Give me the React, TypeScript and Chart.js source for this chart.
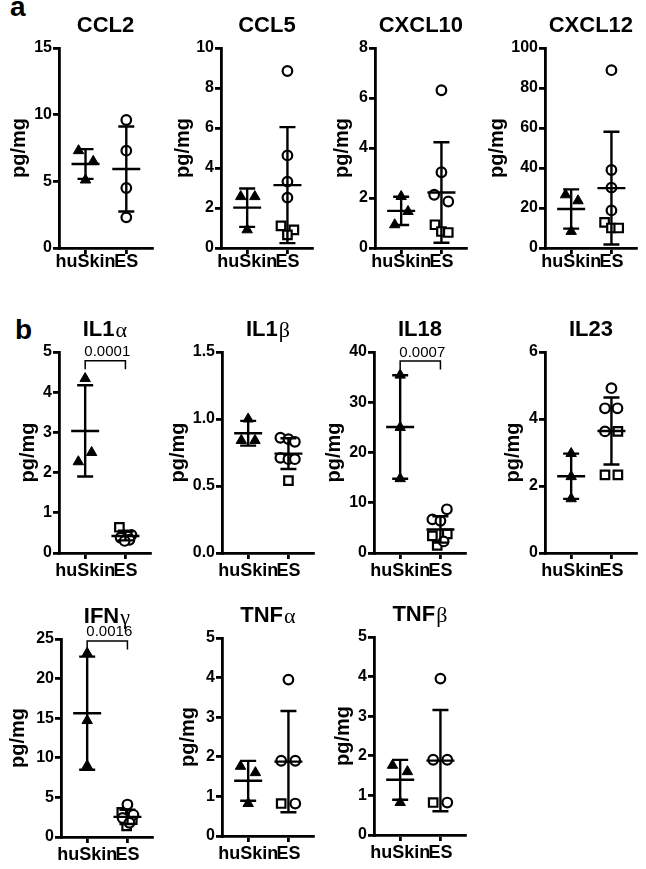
import React, { useEffect, useRef } from "react";
import { Chart, registerables } from "chart.js";
Chart.register(...registerables);

const FONT = "'Liberation Sans', Arial, Helvetica, sans-serif";
const SERIF = "'Liberation Serif', 'DejaVu Serif', serif";

const groupLabels = ["huSkin", "ES"];

// ---- a: CCL2
const ccl2Ticks = [0, 5, 10, 15];
const ccl2Tri = [7.3, 6.5, 5.1];
const ccl2TriX = [-0.17, 0.19, 0];
const ccl2Circ = [9.6, 7.3, 4.5, 2.3];
const ccl2CircX = [0, 0, 0, 0];
const ccl2Sq: number[] = [];
const ccl2SqX: number[] = [];

// ---- a: CCL5
const ccl5Ticks = [0, 2, 4, 6, 8, 10];
const ccl5Tri = [2.57, 2.57, 0.91];
const ccl5TriX = [-0.16, 0.19, 0];
const ccl5Circ = [8.85, 4.63, 3.32, 2.52];
const ccl5CircX = [0, 0, 0, 0];
const ccl5Sq = [1.11, 0.91, 0.66];
const ccl5SqX = [-0.16, 0.16, 0];

// ---- a: CXCL10
const cxcl10Ticks = [0, 2, 4, 6, 8];
const cxcl10Tri = [2.06, 1.46, 0.93];
const cxcl10TriX = [0, 0.17, -0.16];
const cxcl10Circ = [6.31, 3.03, 2.13, 1.86];
const cxcl10CircX = [0, 0, -0.18, 0.17];
const cxcl10Sq = [0.93, 0.66, 0.62];
const cxcl10SqX = [-0.16, 0, 0.17];

// ---- a: CXCL12
const cxcl12Ticks = [0, 20, 40, 60, 80, 100];
const cxcl12Tri = [26.6, 23.6, 8.3];
const cxcl12TriX = [-0.14, 0.17, 0];
const cxcl12Circ = [88.9, 39.0, 30.2, 18.8];
const cxcl12CircX = [0, 0, 0, 0];
const cxcl12Sq = [12.8, 10.0, 10.0];
const cxcl12SqX = [-0.17, 0, 0.18];

// ---- b: IL1a
const il1aTicks = [0, 1, 2, 3, 4, 5];
const il1aTri = [4.34, 2.5, 2.27];
const il1aTriX = [0, 0.16, -0.17];
const il1aCirc = [0.45, 0.42, 0.38, 0.33, 0.3];
const il1aCircX = [0.15, 0.05, -0.12, 0.1, -0.02];
const il1aSq = [0.64, 0.45];
const il1aSqX = [-0.15, -0.05];

// ---- b: IL1b
const il1bTicks = [0, 0.5, 1.0, 1.5];
const il1bTri = [1.0, 0.84, 0.84];
const il1bTriX = [0, -0.17, 0.17];
const il1bCirc = [0.86, 0.85, 0.83, 0.71, 0.7, 0.7];
const il1bCircX = [-0.2, 0, 0.16, -0.2, 0, 0.16];
const il1bSq = [0.54];
const il1bSqX = [0];

// ---- b: IL18
const il18Ticks = [0, 10, 20, 30, 40];
const il18Tri = [35.4, 25.0, 14.8];
const il18TriX = [0, 0, 0];
const il18Circ = [8.7, 6.7, 6.4, 2.3];
const il18CircX = [0.16, -0.2, 0, 0.08];
const il18Sq = [3.4, 3.8, 1.5];
const il18SqX = [-0.2, 0.17, -0.08];

// ---- b: IL23
const il23Ticks = [0, 2, 4, 6];
const il23Tri = [2.97, 2.28, 1.62];
const il23TriX = [0, 0, 0];
const il23Circ = [4.92, 4.32, 4.32, 3.63];
const il23CircX = [0, -0.16, 0.15, -0.16];
const il23Sq = [3.63, 2.33, 2.33];
const il23SqX = [0.16, -0.16, 0.16];

// ---- b: IFNg
const ifngTicks = [0, 5, 10, 15, 20, 25];
const ifngTri = [23.2, 14.7, 9.0];
const ifngTriX = [0, 0, 0];
const ifngCirc = [4.1, 2.8, 2.4, 1.8];
const ifngCircX = [0, 0.15, -0.12, 0.05];
const ifngSq = [3.1, 2.2, 1.4];
const ifngSqX = [-0.14, 0.12, -0.02];

// ---- b: TNFa
const tnfaTicks = [0, 1, 2, 3, 4, 5];
const tnfaTri = [1.76, 1.6, 0.82];
const tnfaTriX = [-0.19, 0.18, 0];
const tnfaCirc = [3.95, 1.9, 1.9, 0.82];
const tnfaCircX = [0, -0.18, 0.17, 0.17];
const tnfaSq = [0.82];
const tnfaSqX = [-0.18];

// ---- b: TNFb
const tnfbTicks = [0, 1, 2, 3, 4, 5];
const tnfbTri = [1.76, 1.6, 0.82];
const tnfbTriX = [-0.19, 0.18, 0];
const tnfbCirc = [3.95, 1.9, 1.9, 0.82];
const tnfbCircX = [0, -0.18, 0.17, 0.17];
const tnfbSq = [0.82];
const tnfbSqX = [-0.18];

type PanelDef = {
  title: string;
  greek?: string;
  ticks: number[];
  dec?: number;
  tri: number[];
  triX: number[];
  circ: number[];
  circX: number[];
  sq: number[];
  sqX: number[];
  p?: string;
  pY?: number;
  axisX: number;
  axisTop: number;
  axisBottom: number;
  gap: number;
  labelPad: number;
};

const panels: PanelDef[] = [
  { title: "CCL2", ticks: ccl2Ticks, tri: ccl2Tri, triX: ccl2TriX, circ: ccl2Circ, circX: ccl2CircX, sq: ccl2Sq, sqX: ccl2SqX, axisX: 59, axisTop: 48, axisBottom: 248, gap: 36, labelPad: -3 },
  { title: "CCL5", ticks: ccl5Ticks, tri: ccl5Tri, triX: ccl5TriX, circ: ccl5Circ, circX: ccl5CircX, sq: ccl5Sq, sqX: ccl5SqX, axisX: 221, axisTop: 48, axisBottom: 248, gap: 34, labelPad: -3 },
  { title: "CXCL10", ticks: cxcl10Ticks, tri: cxcl10Tri, triX: cxcl10TriX, circ: cxcl10Circ, circX: cxcl10CircX, sq: cxcl10Sq, sqX: cxcl10SqX, axisX: 375, axisTop: 48, axisBottom: 248, gap: 29, labelPad: -3 },
  { title: "CXCL12", ticks: cxcl12Ticks, tri: cxcl12Tri, triX: cxcl12TriX, circ: cxcl12Circ, circX: cxcl12CircX, sq: cxcl12Sq, sqX: cxcl12SqX, axisX: 545, axisTop: 48, axisBottom: 248, gap: 44, labelPad: -3 },
  { title: "IL1", greek: "α", ticks: il1aTicks, tri: il1aTri, triX: il1aTriX, circ: il1aCirc, circX: il1aCircX, sq: il1aSq, sqX: il1aSqX, p: "0.0001", pY: 4.78, axisX: 59, axisTop: 352, axisBottom: 553, gap: 27, labelPad: 1 },
  { title: "IL1", greek: "β", ticks: il1bTicks, dec: 1, tri: il1bTri, triX: il1bTriX, circ: il1bCirc, circX: il1bCircX, sq: il1bSq, sqX: il1bSqX, axisX: 222, axisTop: 352, axisBottom: 553, gap: 40, labelPad: 1 },
  { title: "IL18", ticks: il18Ticks, tri: il18Tri, triX: il18TriX, circ: il18Circ, circX: il18CircX, sq: il18Sq, sqX: il18SqX, p: "0.0007", pY: 38.2, axisX: 374, axisTop: 352, axisBottom: 553, gap: 36, labelPad: 1 },
  { title: "IL23", ticks: il23Ticks, tri: il23Tri, triX: il23TriX, circ: il23Circ, circX: il23CircX, sq: il23Sq, sqX: il23SqX, axisX: 545, axisTop: 352, axisBottom: 553, gap: 28, labelPad: 1 },
  { title: "IFN", greek: "γ", ticks: ifngTicks, tri: ifngTri, triX: ifngTriX, circ: ifngCirc, circX: ifngCircX, sq: ifngSq, sqX: ifngSqX, p: "0.0016", pY: 24.75, axisX: 61, axisTop: 639, axisBottom: 837, gap: 39, labelPad: 1 },
  { title: "TNF", greek: "α", ticks: tnfaTicks, tri: tnfaTri, triX: tnfaTriX, circ: tnfaCirc, circX: tnfaCircX, sq: tnfaSq, sqX: tnfaSqX, axisX: 222, axisTop: 638, axisBottom: 836, gap: 30, labelPad: 1 },
  { title: "TNF", greek: "β", ticks: tnfbTicks, tri: tnfbTri, triX: tnfbTriX, circ: tnfbCirc, circX: tnfbCircX, sq: tnfbSq, sqX: tnfbSqX, axisX: 374, axisTop: 637, axisBottom: 835, gap: 27, labelPad: 1 },
];

const TOP_PAD = 37;
const PLOT_W = 98;
const X_SCALE_H = 30;
const RIGHT_PAD = 2;
const BOTTOM_PAD = 4;

function pts(ys: number[], xs: number[], g: number) {
  return ys.map((y, i) => ({ x: g + (xs[i] ?? 0), y }));
}

function Panel({ d }: { d: PanelDef }) {
  const ref = useRef<HTMLCanvasElement>(null);
  const yW = d.gap + 14;
  const w = yW + PLOT_W + RIGHT_PAD;
  const plotH = d.axisBottom - d.axisTop;
  const h = TOP_PAD + plotH + X_SCALE_H + BOTTOM_PAD;
  const left = d.axisX - yW;
  const top = d.axisTop - TOP_PAD;

  useEffect(() => {
    if (!ref.current) return;
    const groups = [d.tri, [...d.circ, ...d.sq]];
    const deco = {
      id: "deco",
      afterDatasetsDraw(chart: any) {
        const { ctx, chartArea } = chart;
        const xs = chart.scales.x;
        const ys = chart.scales.y;
        ctx.save();
        ctx.strokeStyle = "#000";
        ctx.fillStyle = "#000";
        ctx.lineWidth = 2.4;
        ctx.lineCap = "butt";
        groups.forEach((vals, gi) => {
          if (!vals.length) return;
          const n = vals.length;
          const mean = vals.reduce((a, b) => a + b, 0) / n;
          const sd = Math.sqrt(vals.reduce((a, b) => a + (b - mean) ** 2, 0) / (n - 1));
          const cx = xs.getPixelForValue(gi);
          const ym = ys.getPixelForValue(mean);
          const yt = ys.getPixelForValue(mean + sd);
          const yb = ys.getPixelForValue(Math.max(mean - sd, 0));
          ctx.beginPath();
          ctx.moveTo(cx - 14, ym);
          ctx.lineTo(cx + 14, ym);
          ctx.moveTo(cx, yt);
          ctx.lineTo(cx, yb);
          ctx.moveTo(cx - 8, yt);
          ctx.lineTo(cx + 8, yt);
          ctx.moveTo(cx - 8, yb);
          ctx.lineTo(cx + 8, yb);
          ctx.stroke();
        });
        // bracket + p value
        if (d.p && d.pY !== undefined) {
          const x0 = xs.getPixelForValue(0);
          const x1 = xs.getPixelForValue(1);
          const by = ys.getPixelForValue(d.pY);
          ctx.lineWidth = 1.5;
          ctx.beginPath();
          ctx.moveTo(x0, by + 8.5);
          ctx.lineTo(x0, by);
          ctx.lineTo(x1, by);
          ctx.lineTo(x1, by + 8.5);
          ctx.stroke();
          ctx.font = `15px ${FONT}`;
          ctx.textAlign = "center";
          ctx.textBaseline = "alphabetic";
          ctx.fillText(d.p, (x0 + x1) / 2 + 2, by - 4.5);
        }
        // title
        const cx = (chartArea.left + chartArea.right) / 2;
        const ty = chartArea.top - 22;
        ctx.textBaseline = "middle";
        ctx.textAlign = "left";
        ctx.font = `bold 22px ${FONT}`;
        const w1 = ctx.measureText(d.title).width;
        let w2 = 0;
        if (d.greek) {
          ctx.font = `22px ${SERIF}`;
          w2 = ctx.measureText(d.greek).width + 1;
        }
        const x0 = cx - (w1 + w2) / 2;
        ctx.font = `bold 22px ${FONT}`;
        ctx.fillText(d.title, x0, ty);
        if (d.greek) {
          ctx.font = `22px ${SERIF}`;
          ctx.fillText(d.greek, x0 + w1 + 1, ty + 1);
        }
        ctx.restore();
      },
    };

    const axisGrid = {
      display: true,
      drawOnChartArea: false,
      drawTicks: true,
      tickLength: 6,
      color: "#000",
      lineWidth: 2.8,
    };
    const axisBorder = { display: true, color: "#000", width: 2.8 };

    const chart = new Chart(ref.current, {
      type: "scatter",
      data: {
        datasets: [
          {
            data: pts(d.tri, d.triX, 0),
            pointStyle: "triangle",
            pointRadius: 6,
            backgroundColor: "#000",
            borderColor: "#000",
            borderWidth: 1,
            clip: false,
          },
          {
            data: pts(d.circ, d.circX, 1),
            pointStyle: "circle",
            pointRadius: 4.8,
            backgroundColor: "#fff",
            borderColor: "#000",
            borderWidth: 2.2,
            clip: false,
          },
          {
            data: pts(d.sq, d.sqX, 1),
            pointStyle: "rect",
            pointRadius: 6,
            backgroundColor: "#fff",
            borderColor: "#000",
            borderWidth: 2.2,
            clip: false,
          },
        ] as any,
      },
      options: {
        responsive: false,
        maintainAspectRatio: false,
        animation: false,
        events: [],
        layout: { padding: { top: TOP_PAD, left: 0, right: RIGHT_PAD, bottom: BOTTOM_PAD } },
        plugins: { legend: { display: false }, tooltip: { enabled: false }, title: { display: false } },
        scales: {
          x: {
            type: "linear",
            min: -0.65,
            max: 1.63,
            afterBuildTicks: (s: any) => {
              s.ticks = [{ value: 0 }, { value: 1 }];
            },
            afterFit: (s: any) => {
              s.height = X_SCALE_H;
            },
            ticks: {
              autoSkip: false,
              maxRotation: 0,
              minRotation: 0,
              padding: d.labelPad,
              color: "#000",
              font: { size: 18, weight: "bold", family: FONT },
              callback: (v: any) => groupLabels[Math.round(Number(v))] ?? "",
            },
            grid: axisGrid,
            border: axisBorder,
          },
          y: {
            type: "linear",
            min: d.ticks[0],
            max: d.ticks[d.ticks.length - 1],
            afterBuildTicks: (s: any) => {
              s.ticks = d.ticks.map((v) => ({ value: v }));
            },
            afterFit: (s: any) => {
              s.width = yW;
            },
            ticks: {
              padding: 1,
              color: "#000",
              font: { size: 16, weight: "bold", family: FONT },
              callback: (v: any) => (d.dec ? Number(v).toFixed(d.dec) : String(v)),
            },
            grid: axisGrid,
            border: axisBorder,
            title: {
              display: true,
              text: "pg/mg",
              color: "#000",
              padding: 0,
              font: { size: 20, weight: "bold", family: FONT, lineHeight: 1 },
            },
          },
        },
      } as any,
      plugins: [deco as any],
    });
    return () => chart.destroy();
  }, []);

  return (
    <canvas
      ref={ref}
      width={w}
      height={h}
      style={{ position: "absolute", left, top, width: w, height: h }}
    />
  );
}

export default function App() {
  return (
    <div
      style={{
        position: "absolute",
        left: 0,
        top: 0,
        width: 646,
        height: 869,
        overflow: "hidden",
        background: "#fff",
        fontFamily: FONT,
      }}
    >
      <div style={{ position: "absolute", left: 10, top: -7, font: `bold 28px ${FONT}`, lineHeight: "28px" }}>a</div>
      <div style={{ position: "absolute", left: 15, top: 316, font: `bold 28px ${FONT}`, lineHeight: "28px" }}>b</div>
      {panels.map((d, i) => (
        <Panel key={i} d={d} />
      ))}
    </div>
  );
}
